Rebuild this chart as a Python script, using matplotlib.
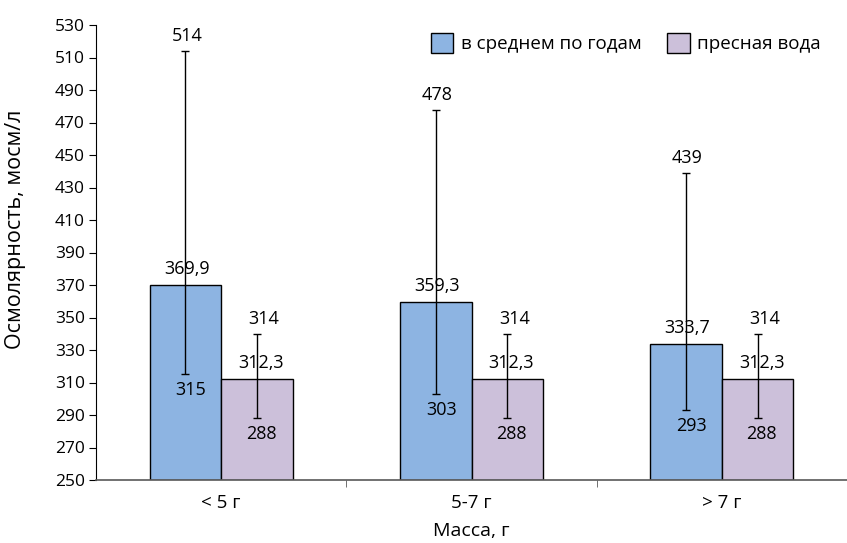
import matplotlib
matplotlib.use('Agg')
import matplotlib.pyplot as plt
import numpy as np

plt.rcParams['font.family'] = ['Open Sans', 'DejaVu Sans']

categories = ['< 5 г', '5-7 г', '> 7 г']
series_names = ['в среднем по годам', 'пресная вода']

avg_values = [369.9, 359.3, 333.7]
avg_low = [315, 303, 293]
avg_high = [514, 478, 439]

fresh_values = [312.3, 312.3, 312.3]
fresh_low = [288, 288, 288]
fresh_high = [340, 340, 340]
fresh_high_labels = ['314', '314', '314']

blue = '#8DB4E2'
lilac = '#CCC0DA'

fig = plt.figure(figsize=(8.47, 5.43), dpi=100)
ax = fig.add_axes([96 / 847, 1 - 480 / 543, 1 - 96 / 847, (480 - 25) / 543])

x = np.arange(len(categories))
w = 0.286
lab_fs = 13

def fmt(v):
    return f"{v:.1f}".replace('.', ',')

for vals, lows, highs, off, col, name in [
        (avg_values, avg_low, avg_high, -w / 2, blue, series_names[0]),
        (fresh_values, fresh_low, fresh_high, w / 2, lilac, series_names[1])]:
    vals = np.array(vals)
    lows = np.array(lows)
    highs = np.array(highs)
    ax.bar(x + off, vals - 250, width=w, bottom=250, color=col,
           edgecolor='black', linewidth=1, label=name, zorder=2)
    ax.errorbar(x + off, vals, yerr=[vals - lows, highs - vals], fmt='none',
                ecolor='black', elinewidth=1, capsize=3, capthick=1, zorder=3)

# data labels
for i in range(len(categories)):
    xb = x[i] - w / 2
    xf = x[i] + w / 2
    ax.annotate(str(avg_high[i]), (xb, avg_high[i]), xytext=(1, 4), textcoords='offset points',
                ha='center', va='bottom', fontsize=lab_fs)
    ax.annotate(fmt(avg_values[i]), (xb, avg_values[i]), xytext=(1, 5), textcoords='offset points',
                ha='center', va='bottom', fontsize=lab_fs)
    ax.annotate(str(avg_low[i]), (xb, avg_low[i]), xytext=(4, -5), textcoords='offset points',
                ha='center', va='top', fontsize=lab_fs)
    ax.annotate(fresh_high_labels[i], (xf, fresh_high[i]), xytext=(5, 4), textcoords='offset points',
                ha='center', va='bottom', fontsize=lab_fs)
    ax.annotate(fmt(fresh_values[i]), (xf, fresh_values[i]), xytext=(3, 5), textcoords='offset points',
                ha='center', va='bottom', fontsize=lab_fs)
    ax.annotate(str(fresh_low[i]), (xf, fresh_low[i]), xytext=(3, -5), textcoords='offset points',
                ha='center', va='top', fontsize=lab_fs)

ax.set_xlim(-0.5, 2.5)
ax.set_ylim(250, 530)
ax.set_yticks(np.arange(250, 531, 20))
ax.set_xticks(x)
ax.set_xticklabels(categories)
ax.set_xticks([0.5, 1.5], minor=True)
ax.tick_params(axis='x', which='major', length=0, pad=10, labelsize=13.5)
ax.tick_params(axis='x', which='minor', length=5, color='#595959', direction='out')
ax.tick_params(axis='y', length=5, direction='out', labelsize=12.5, pad=3)

for s in ['top', 'right']:
    ax.spines[s].set_visible(False)
ax.spines['left'].set_color('black')
ax.spines['bottom'].set_color('#595959')
ax.spines['bottom'].set_linewidth(1.2)

ax.set_ylabel('Осмолярность, мосм/л', fontsize=15.5)
ax.yaxis.set_label_coords(-0.093, 0.55)
ax.set_xlabel('Масса, г', fontsize=14, labelpad=7)

ax.legend(loc='center right', bbox_to_anchor=(0.988, 0.96), ncol=2, frameon=False,
          fontsize=13.5, handlelength=1.2, handleheight=1.3, columnspacing=1.4,
          handletextpad=0.4)

plt.savefig('out.png', dpi=100)
plt.close()
